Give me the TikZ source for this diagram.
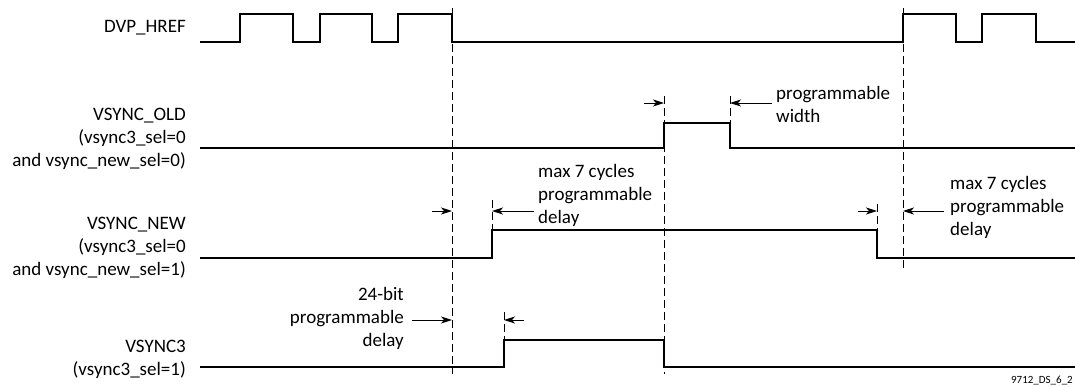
\documentclass[tikz,border=0pt]{standalone}
\usepackage{fontspec}
\setmainfont{Carlito}
\usetikzlibrary{arrows.meta}

\tikzset{
  sig/.style={line width=1.9pt},
  guide/.style={line width=0.8pt, dash pattern=on 8pt off 4pt},
  dim/.style={line width=0.9pt, -{Stealth[length=11pt,width=7pt,inset=3pt]}},
  lbl/.style={font=\fontsize{19}{23}\selectfont, align=right, anchor=east, inner sep=0pt},
  note/.style={font=\fontsize{19}{23}\selectfont, align=left, anchor=west, inner sep=0pt},
}

\begin{document}
\begin{tikzpicture}[x=1pt,y=-1pt]
\useasboundingbox (0,0) rectangle (1075,387);

% signal names
\node[lbl] (href) at (186,28) {DVP\_HREF};
\node[lbl] (old) at (186,139) {VSYNC\_OLD\\(vsync3\_sel=0\\and vsync\_new\_sel=0)};
\node[lbl] (new) at (186,248) {VSYNC\_NEW\\(vsync3\_sel=0\\and vsync\_new\_sel=1)};
\node[lbl] (vs3) at (186,359) {VSYNC3\\(vsync3\_sel=1)};

% edges
\coordinate (hrefend) at (452,42);
\coordinate (hrefgo) at (903,42);
\coordinate (oldrise) at (664,123);
\coordinate (oldfall) at (730,123);
\coordinate (newrise) at (492,230);
\coordinate (newfall) at (877,230);
\coordinate (vsrise) at (504,340);

% waveforms
\draw[sig] (200,42) -- (240,42) -- (240,14) -- (293,14) -- (293,42) -- (320,42) -- (320,14) -- (372,14) -- (372,42) -- (398,42) -- (398,14) -- (452,14) -- (hrefend) -- (hrefgo) -- (903,14) -- (956,14) -- (956,42) -- (982,42) -- (982,14) -- (1036,14) -- (1036,42) -- (1075,42);
\draw[sig] (200,148) -- (664,148) -- (oldrise) -- (oldfall) -- (730,148) -- (1075,148);
\draw[sig] (200,258) -- (492,258) -- (newrise) -- (newfall) -- (877,258) -- (1075,258);
\draw[sig] (200,367) -- (504,367) -- (vsrise) -- (664,340) -- (664,367) -- (1075,367);

% dashed guides
\draw[guide] (452,8) -- (452,374);
\draw[guide] (664,96) -- (664,374);
\draw[guide] (903,8) -- (903,268);
\draw[guide] (730,96) -- (oldfall);
\draw[guide] (492,200) -- (newrise);
\draw[guide] (877,204) -- (newfall);
\draw[guide] (504,312) -- (vsrise);

% notes
\node[note] (pw) at (776,104) {programmable\\width};
\node[note] (dl) at (538,195) {max 7 cycles\\programmable\\delay};
\node[note] (dr) at (950,207) {max 7 cycles\\programmable\\delay};
\node[lbl] (d24) at (404,318) {24-bit\\programmable\\delay};
\node[anchor=south east, inner sep=0pt, font=\fontsize{11}{13}\selectfont] (tag) at (1073,385) {9712\_DS\_6\_2};

% arrows
\draw[dim] (644,103) -- (oldrise |- 0,103);
\draw[dim] ([xshift=-4pt]pw.west |- 0,103) -- (oldfall |- 0,103);
\draw[dim] (432,211) -- (hrefend |- 0,211);
\draw[dim] (534,211) -- (newrise |- 0,211);
\draw[dim] (858,211) -- (newfall |- 0,211);
\draw[dim] ([xshift=-6pt]dr.west |- 0,211) -- (hrefgo |- 0,211);
\draw[dim] ([xshift=8pt]d24.east |- 0,320) -- (hrefend |- 0,320);
\draw[dim] (524,320) -- (vsrise |- 0,320);
\end{tikzpicture}
\end{document}
